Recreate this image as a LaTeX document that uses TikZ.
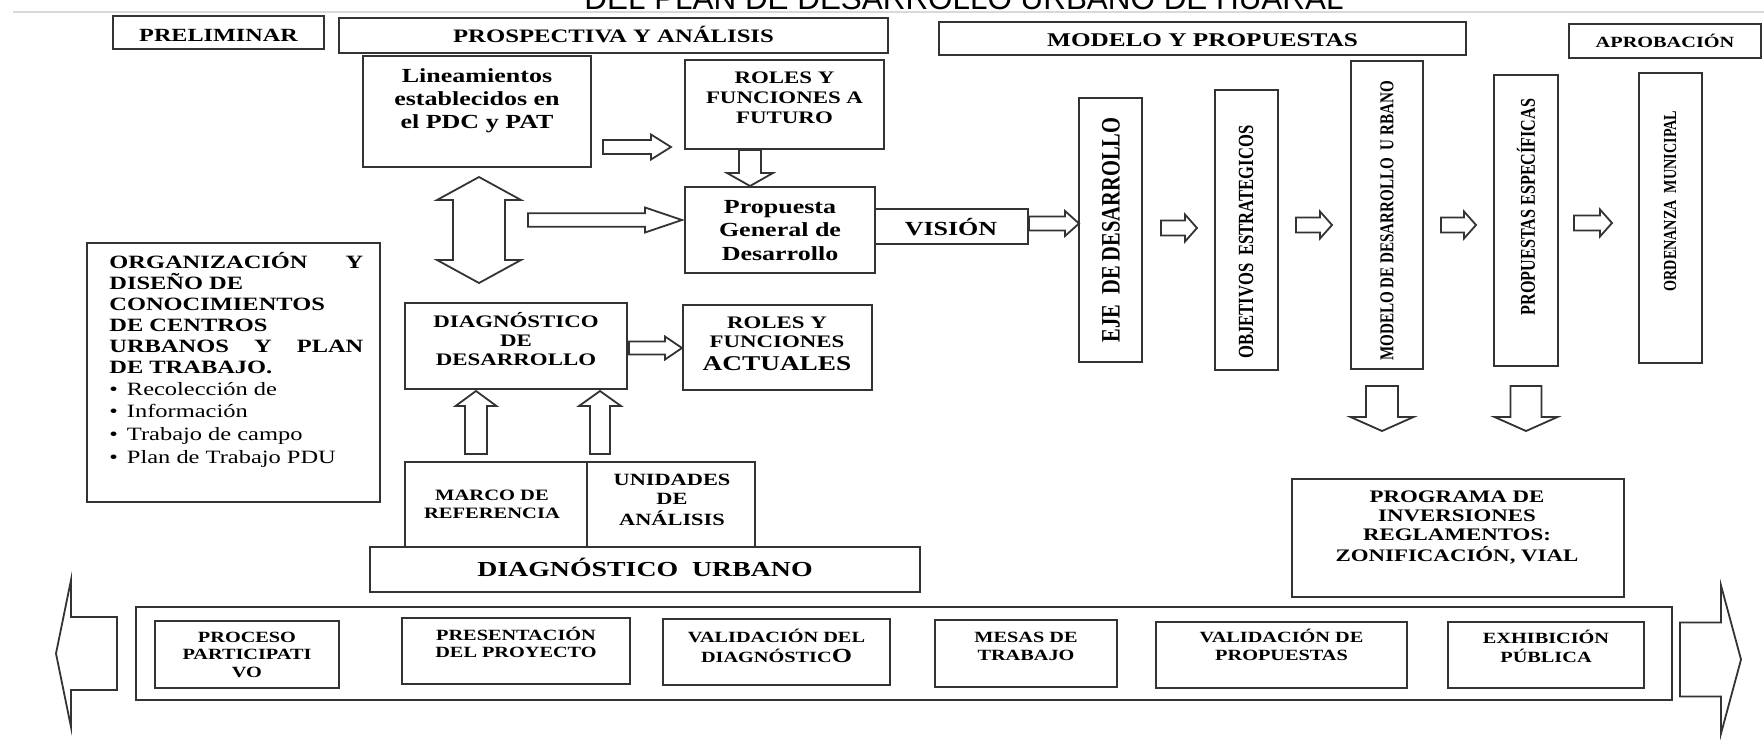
\documentclass[tikz,border=0pt]{standalone}
\usepackage{fontspec}
\setmainfont{Liberation Serif}
\newfontfamily\hf{Liberation Serif}[FakeStretch=1.3]
\newfontfamily\vf{Liberation Serif}[FakeStretch=0.77]
\newfontfamily\titlefont{Liberation Sans}
\usetikzlibrary{calc,fit}
\newcommand\setfs[2]{\fontsize{#1}{#2}\selectfont}
\newcommand\mlines[1]{\begin{tabular}[t]{@{}c@{}}#1\end{tabular}}
\tikzset{
  box/.style={draw=black!80, line width=1pt, inner sep=0pt, rectangle},
  arr/.style={draw=black!80, line width=0.9pt, fill=white, line join=miter},
  ht/.style 2 args={inner sep=0pt, anchor=base, font=\hf\bfseries\setfs{#1}{#2}},
  vt/.style 2 args={inner sep=0pt, rotate=90, font=\vf\bfseries\setfs{#1}{#2}},
}
% hollow block arrows: from, to, shaft half width, head half width, head length
\newcommand\blkR[5]{\draw[arr] let \p1=#1, \p2=#2 in
 (\x1,\y1+#3) -- (\x2-#5,\y1+#3) -- (\x2-#5,\y1+#4) -- (\x2,\y1) -- (\x2-#5,\y1-#4) -- (\x2-#5,\y1-#3) -- (\x1,\y1-#3) -- cycle;}
\newcommand\blkD[5]{\draw[arr] let \p1=#1, \p2=#2 in
 (\x1-#3,\y1) -- (\x1-#3,\y2+#5) -- (\x1-#4,\y2+#5) -- (\x1,\y2) -- (\x1+#4,\y2+#5) -- (\x1+#3,\y2+#5) -- (\x1+#3,\y1) -- cycle;}
\newcommand\blkU[5]{\draw[arr] let \p1=#1, \p2=#2 in
 (\x1-#3,\y1) -- (\x1-#3,\y2-#5) -- (\x1-#4,\y2-#5) -- (\x1,\y2) -- (\x1+#4,\y2-#5) -- (\x1+#3,\y2-#5) -- (\x1+#3,\y1) -- cycle;}
\begin{document}
\begin{tikzpicture}[x=0.5pt,y=-0.5pt]
\fill[white] (0,0) rectangle (1764,745);
\useasboundingbox (0,0) rectangle (1764,745);
% title (cut off at the top)
\node[inner sep=0pt, anchor=base, font=\titlefont\setfs{15.7}{18}] (title) at (964,9) {DEL PLAN DE DESARROLLO URBANO DE HUARAL};
\coordinate (rl) at (13,12); \coordinate (rr) at (1764,12);
\draw[black!15, line width=0.6pt] (rl) -- (rr);

% phase headers
\node[box, fit={(113,16) (324,49)}] (prel) {};
\node[ht={9.3}{11}] (prelT) at (218.5,41) {PRELIMINAR};
\node[box, fit={(339,18) (888,53)}] (pros) {};
\node[ht={9.5}{11}] (prosT) at (613.5,42) {PROSPECTIVA Y ANÁLISIS};
\node[box, fit={(939,22) (1466,55)}] (modp) {};
\node[ht={9.7}{11}] (modpT) at (1202.5,46) {MODELO Y PROPUESTAS};
\node[box, fit={(1569,24) (1761,58)}] (apro) {};
\node[ht={7.8}{9}] (aproT) at (1665,47) {APROBACIÓN};

% prospectiva
\node[box, fit={(363,56) (591,167)}] (lin) {};
\node[ht={10}{11.7}] (linT) at (477,82) {\mlines{Lineamientos\\establecidos en\\el PDC y PAT}};
\node[box, fit={(685,60) (884,149)}] (rf) {};
\node[ht={8.8}{10}] (rfT) at (784.5,83) {\mlines{ROLES Y\\FUNCIONES A\\FUTURO}};
\node[box, fit={(685,187) (875,273)}] (prop) {};
\node[ht={10}{11.75}] (propT) at (780,213) {\mlines{Propuesta\\General de\\Desarrollo}};
\node[box, fit={(875,209) (1028,244)}] (vis) {};
\node[ht={10}{12}] (visT) at (951,235) {VISIÓN};

% organizacion
\node[box, fit={(87,243) (380,502)}] (org) {};
\node[inner sep=0pt, anchor=base west, font=\hf\setfs{9.4}{10.5}] (orgT) at (109,268) {\parbox[t]{127pt}{\bfseries
\makebox[127pt][s]{ORGANIZACIÓN Y}\\
DISEÑO DE\\
CONOCIMIENTOS\\
DE CENTROS\\
\makebox[127pt][s]{URBANOS Y PLAN}\\
DE TRABAJO.\\[0.6pt]
\mdseries\textbullet\hspace{4.5pt}Recolección de\\[0.8pt]
\textbullet\hspace{4.5pt}Información\\[0.8pt]
\textbullet\hspace{4.5pt}Trabajo de campo\\[0.8pt]
\textbullet\hspace{4.5pt}Plan de Trabajo PDU}};

% diagnostico
\node[box, fit={(405,303) (627,389)}] (dd) {};
\node[ht={8.8}{9.5}] (ddT) at (516,327) {\mlines{DIAGNÓSTICO\\DE\\DESARROLLO}};
\node[box, fit={(683,305) (872,390)}] (ra) {};
\node[ht={8.8}{9.5}] (raT) at (777,328) {\mlines{ROLES Y\\FUNCIONES\\[2pt]{\setfs{10.5}{12}ACTUALES}}};
\node[box, fit={(405,462) (587,547)}] (marco) {};
\node[box, fit={(587,462) (755,547)}] (unid) {};
\node[ht={7.9}{9}] (marcoT) at (492,500) {\mlines{MARCO DE\\REFERENCIA}};
\node[ht={8.6}{9.8}] (unidT) at (672,485) {\mlines{UNIDADES\\DE\\ANÁLISIS}};
\node[box, fit={(370,547) (920,592)}] (du) {};
\node[ht={10.7}{12}] (duT) at (645,576) {DIAGNÓSTICO\ \ URBANO};

% vertical boxes
\node[box, fit={(1079,98) (1142,362)}] (eje) {};
\node[vt={13.3}{14}] (ejeT) at (1111,230) {EJE\ \ DE DESARROLLO};
\node[box, fit={(1215,90) (1278,370)}] (obj) {};
\node[vt={10.8}{12}] (objT) at (1246,242) {OBJETIVOS\ \ ESTRATEGICOS};
\node[box, fit={(1351,61) (1423,369)}] (mod) {};
\node[vt={9.8}{11}] (modT) at (1387,221) {MODELO DE DESARROLLO\ \ U RBANO};
\node[box, fit={(1494,75) (1558,366)}] (pe) {};
\node[vt={10.5}{11}] (peT) at (1526,207) {PROPUESTAS ESPECÍFICAS};
\node[box, fit={(1639,73) (1702,363)}] (ord) {};
\node[vt={9.2}{11}] (ordT) at (1670,201) {ORDENANZA\ \ MUNICIPAL};

% programa
\node[box, fit={(1292,479) (1624,597)}] (prog) {};
\node[ht={8.8}{9.7}] (progT) at (1457,502) {\mlines{PROGRAMA DE\\INVERSIONES\\REGLAMENTOS:\\ZONIFICACIÓN, VIAL}};

% participation band
\node[box, fit={(136,607) (1672,700)}] (band) {};
\node[box, fit={(155,621) (339,688)}] (pp) {};
\node[ht={7.8}{8.75}] (ppT) at (247,642) {\mlines{PROCESO\\PARTICIPATI\\VO}};
\node[box, fit={(402,618) (630,684)}] (pres) {};
\node[ht={7.8}{8.75}] (presT) at (516,640) {\mlines{PRESENTACIÓN\\DEL PROYECTO}};
\node[box, fit={(663,619) (890,685)}] (vd) {};
\node[ht={7.8}{10}] (vdT) at (776.5,642) {\mlines{VALIDACIÓN DEL\\DIAGNÓSTIC{\setfs{10}{10}O}}};
\node[box, fit={(935,620) (1117,687)}] (mt) {};
\node[ht={7.8}{9}] (mtT) at (1026,642) {\mlines{MESAS DE\\TRABAJO}};
\node[box, fit={(1156,622) (1407,688)}] (vp) {};
\node[ht={7.8}{9}] (vpT) at (1281.5,642) {\mlines{VALIDACIÓN DE\\PROPUESTAS}};
\node[box, fit={(1448,622) (1644,688)}] (ep) {};
\node[ht={7.8}{9.5}] (epT) at (1546,643) {\mlines{EXHIBICIÓN\\PÚBLICA}};

% big band arrows
\draw[arr, shift={(band.west)}] (-18,-36.5) -- (-64,-36.5) -- (-64,-73.5) -- (-79,0) -- (-64,73.5) -- (-64,36.5) -- (-18,36.5) -- cycle;
\draw[arr, shift={(band.east)}] (7,-31) -- (48,-31) -- (48,-68) -- (68,6) -- (48,80) -- (48,43) -- (7,43) -- cycle;

% double vertical arrow
\coordinate (dbl) at (479,230);
\draw[arr, shift={(dbl)}] (0,-53) -- (42,-30) -- (26,-30) -- (26,30) -- (42,30) -- (0,53) -- (-42,30) -- (-26,30) -- (-26,-30) -- (-42,-30) -- cycle;

% block arrows
\blkR{($(lin.south east)+(11,-21)$)}{($(rf.west)+(-13,0)$)}{3.5pt}{6.25pt}{10pt}
\blkD{($(rf.south)+(-34.5,0)$)}{(prop.north)}{5.5pt}{11.5pt}{6.5pt}
\blkR{($(dbl)+(49,-10)$)}{($(prop.west)+(-2,0)$)}{3.35pt}{6.25pt}{18.5pt}
\blkR{($(vis.east)+(0,-3)$)}{($(eje.west)+(1,0)$)}{3.5pt}{6.25pt}{7pt}
\blkR{($(dd.east)+(1,2)$)}{(ra.west)}{3.25pt}{5.75pt}{8.5pt}
\blkU{($(marco.north west)+(72,-7)$)}{($(dd.south)+(0,1)$)}{5.5pt}{10.25pt}{7.5pt}
\blkU{($(unid.north west)+(14,-7)$)}{($(dd.south)+(0,1)$)}{5pt}{10.5pt}{7.5pt}
\blkR{($(eje.east)+(18,-2)$)}{($(obj.west)+(-17,0)$)}{3.75pt}{6.75pt}{6pt}
\blkR{($(obj.east)+(17,-5)$)}{($(mod.west)+(-18,0)$)}{3.75pt}{6.75pt}{6pt}
\blkR{($(mod.east)+(17,10)$)}{($(pe.west)+(-17,0)$)}{3.75pt}{6.75pt}{6pt}
\blkR{($(pe.east)+(15,2.5)$)}{($(ord.west)+(-26,0)$)}{3.75pt}{6.75pt}{6pt}
\blkD{($(mod.south)+(-5,16)$)}{($(prog.north)+(0,-47)$)}{8pt}{15.75pt}{7pt}
\blkD{($(pe.south)+(0,19)$)}{($(prog.north)+(0,-47)$)}{7.75pt}{15.75pt}{7pt}
\end{tikzpicture}
\end{document}
